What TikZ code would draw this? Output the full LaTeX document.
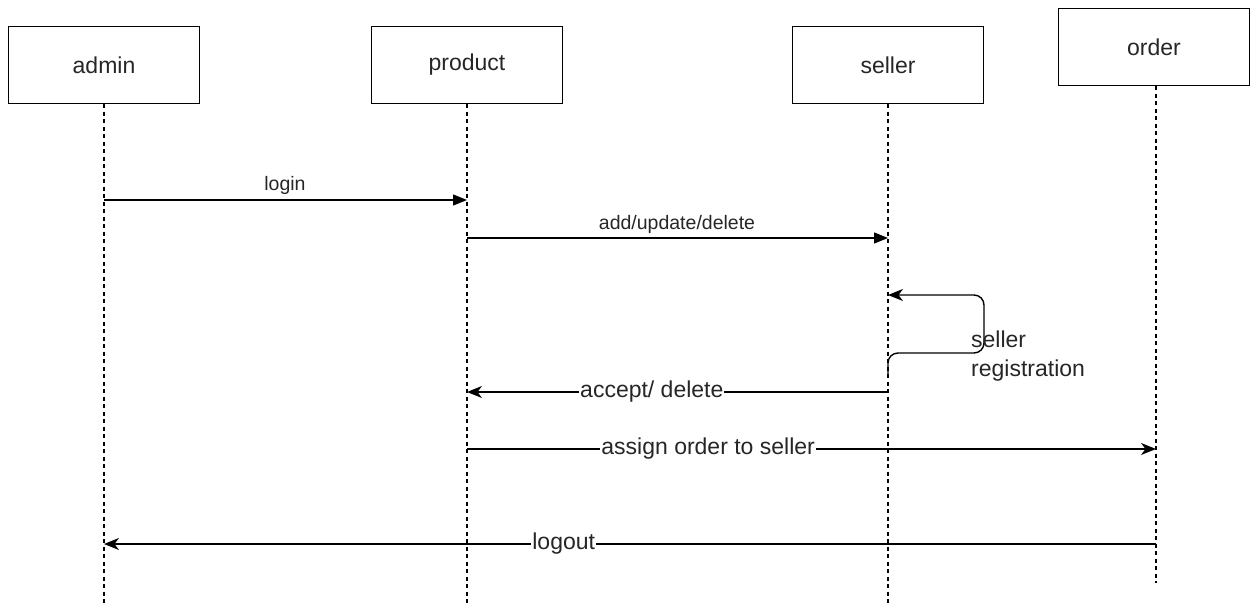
\documentclass[tikz,border=0pt]{standalone}
\usepackage{fontspec}
\setmainfont{Liberation Sans}
\usetikzlibrary{arrows.meta}
\begin{document}
\begin{tikzpicture}[x=1pt,y=-1pt,
  actor/.style={draw=black,line width=1.3pt,minimum width=191pt,minimum height=77pt,
    inner sep=0pt,font=\fontsize{23}{27}\selectfont,text=black!85},
  lifeline/.style={draw=black,line width=1.3pt,dash pattern=on 4pt off 3.5pt},
  msg/.style={draw=black,line width=1.4pt},
  blockhead/.style={msg,-{Triangle[length=14pt,width=11pt]}},
  classichead/.style={msg,-{Stealth[length=15pt,width=12pt,inset=4.5pt]}},
  biglabel/.style={font=\fontsize{23}{27}\selectfont,text=black!85,fill=white,inner sep=1pt},
  smalllabel/.style={font=\fontsize{19.5}{23}\selectfont,text=black!85,inner sep=1pt}
]
\useasboundingbox (0,0) rectangle (1251,603);

% participants
\node[actor] (admin)   at (104,65)  {admin};
\node[actor] (product) at (467,65)  {product};
\node[actor] (seller)  at (888,65)  {seller};
\node[actor] (order)   at (1154,47) {order};

% lifeline ends
\coordinate (adminEnd)   at (104,603);
\coordinate (productEnd) at (467,603);
\coordinate (sellerEnd)  at (888,603);
\coordinate (orderEnd)   at (1156,583);

\draw[lifeline] (admin.south) -- (adminEnd);
\draw[lifeline] (product.south) -- (productEnd);
\draw[lifeline] (seller.south) -- (sellerEnd);
\draw[lifeline] (order.south -| orderEnd) -- (orderEnd);

% message anchors on the lifelines
\coordinate (aLogin)   at (104,200);
\coordinate (pLogin)   at (467,200);
\coordinate (pAdd)     at (467,238);
\coordinate (sAdd)     at (888,238);
\coordinate (sRegIn)   at (888,295);
\coordinate (sRegOut)  at (888,376);
\coordinate (regA)     at (984,353);
\coordinate (regB)     at (984,295);
\coordinate (sAccept)  at (888,392);
\coordinate (pAccept)  at (467,392);
\coordinate (pAssign)  at (467,449);
\coordinate (oAssign)  at (1156,449);
\coordinate (oLogout)  at (1156,544);
\coordinate (aLogout)  at (104,544);

% messages
\draw[blockhead] (aLogin) -- (pLogin);
\node[smalllabel] (loginLbl) at (285,185) {login};

\draw[blockhead] (pAdd) -- (sAdd);
\node[smalllabel] (addLbl) at (677,224) {add/update/delete};

\draw[classichead,rounded corners=10pt] (sRegOut) |- (regA) |- (sRegIn);
\node[font=\fontsize{23}{29}\selectfont,text=black!85,anchor=north west,align=left,inner sep=0pt]
  (regLbl) at (971,331) {seller\\registration};

\draw[classichead] (sAccept) -- (pAccept)
  node[biglabel,pos=0.561] (acceptLbl) {accept/ delete};

\draw[classichead] (pAssign) -- (oAssign)
  node[biglabel,pos=0.35] (assignLbl) {assign order to seller};

\draw[classichead] (oLogout) -- (aLogout)
  node[biglabel,pos=0.563] (logoutLbl) {logout};
\end{tikzpicture}
\end{document}
